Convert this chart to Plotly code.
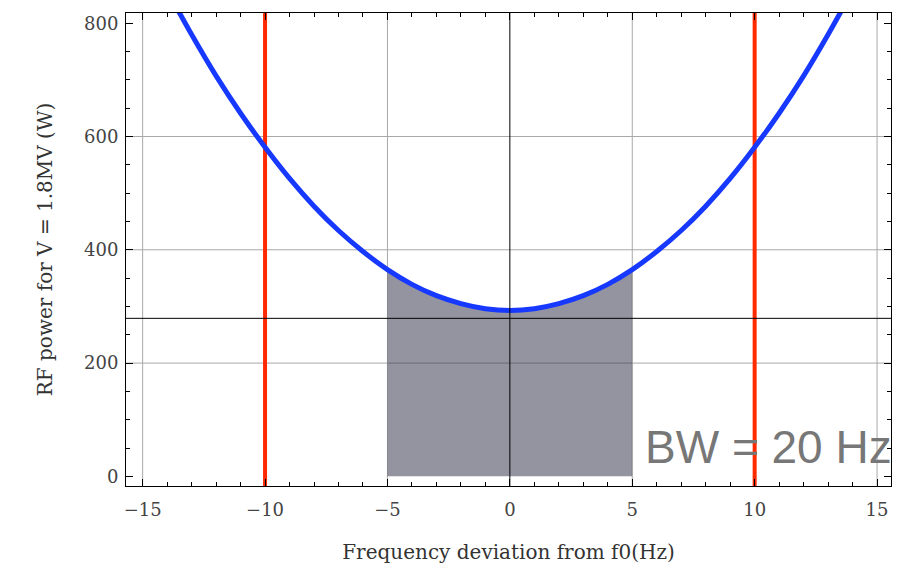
import plotly.graph_objects as go

# ---- data ----
FREQ = [-14, -13, -12, -11, -10, -9, -8, -7, -6, -5, -4, -3, -2, -1, 0,
        1, 2, 3, 4, 5, 6, 7, 8, 9, 10, 11, 12, 13, 14]
POWER = [858, 780, 707, 641, 581, 526, 477, 434, 397, 365, 339, 319, 305, 296, 293,
         296, 305, 319, 339, 365, 397, 434, 477, 526, 581, 641, 707, 780, 858]
BAND_LO, BAND_HI = -5, 5          # shaded band
BW_LINES = [-10, 10]              # red vertical lines
REF_POWER = 279                   # black horizontal line
GRID_X = [-15, -10, -5, 5, 10, 15]
GRID_Y = [200, 400, 600]
X_TICKS = [-15, -10, -5, 0, 5, 10, 15]
Y_TICKS = [0, 200, 400, 600, 800]
X_RANGE = [-15.68, 15.57]
Y_RANGE = [-17, 818]
LABEL = "BW = 20 Hz"

band_x = [f for f in FREQ if BAND_LO <= f <= BAND_HI]
band_y = [p for f, p in zip(FREQ, POWER) if BAND_LO <= f <= BAND_HI]

fig = go.Figure()

for g in GRID_X:
    fig.add_vline(x=g, line=dict(color="#a8a8a8", width=1), layer="below")
for g in GRID_Y:
    fig.add_hline(y=g, line=dict(color="#a8a8a8", width=1), layer="below")

fig.add_trace(go.Scatter(x=band_x, y=band_y, mode="lines", fill="tozeroy",
                         fillcolor="rgba(41,41,66,0.5)",
                         line=dict(width=0, shape="spline"), hoverinfo="skip"))

for b in BW_LINES:
    fig.add_vline(x=b, line=dict(color="#ff2a00", width=4), layer="below")

fig.add_trace(go.Scatter(x=FREQ, y=POWER, mode="lines",
                         line=dict(color="#1638ff", width=5, shape="spline")))

fig.add_vline(x=0, line=dict(color="black", width=1), layer="above")
fig.add_hline(y=REF_POWER, line=dict(color="black", width=1), layer="above")

fig.add_annotation(x=5.45, y=52, xref="x", yref="y", text=LABEL, showarrow=False,
                   xanchor="left", yanchor="middle",
                   font=dict(family="Liberation Sans", size=46, color="#777777"))

tickfont = dict(family="DejaVu Serif", size=18, color="#444444")
titlefont = dict(family="DejaVu Serif", size=20, color="#333333")

fig.update_xaxes(range=X_RANGE, tickvals=X_TICKS, showgrid=False, zeroline=False,
                 ticks="inside", ticklen=7, tickcolor="black", ticklabelstandoff=7,
                 minor=dict(dtick=1, ticks="inside", ticklen=4, tickcolor="black", showgrid=False),
                 showline=True, linecolor="black", linewidth=1, mirror="allticks",
                 tickfont=tickfont,
                 title=dict(text="Frequency deviation from f0(Hz)", font=titlefont, standoff=26))
fig.update_yaxes(range=Y_RANGE, tickvals=Y_TICKS, showgrid=False, zeroline=False,
                 ticks="inside", ticklen=7, tickcolor="black", ticklabelstandoff=3,
                 minor=dict(dtick=50, ticks="inside", ticklen=4, tickcolor="black", showgrid=False),
                 showline=True, linecolor="black", linewidth=1, mirror="allticks",
                 tickfont=tickfont,
                 title=dict(text="RF power for V = 1.8MV (W)", font=titlefont, standoff=26))

fig.update_layout(width=902, height=574, showlegend=False,
                  paper_bgcolor="white", plot_bgcolor="white",
                  margin=dict(l=126, r=11, t=13, b=88))

fig.write_html("out.html")
